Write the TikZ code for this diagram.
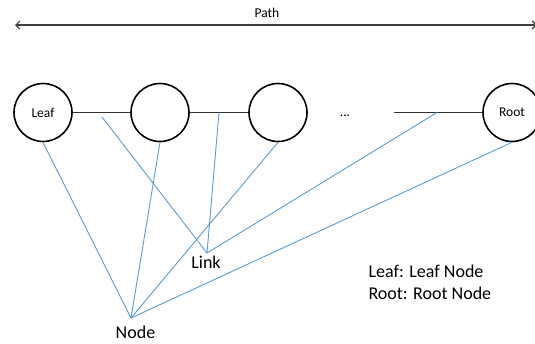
\documentclass[tikz,border=0pt]{standalone}
\usepackage{fontspec}
\setmainfont{Carlito}
\usetikzlibrary{arrows.meta}
\definecolor{linkblue}{RGB}{91,155,213}

\begin{document}
\begin{tikzpicture}[x=1pt, y=-1pt,
  vertex/.style={draw, circle, line width=1.6pt, minimum size=58pt, inner sep=0pt, font=\fontsize{13.5}{16}\selectfont},
  chain/.style={line width=0.9pt, color=black!80},
  link/.style={line width=0.9pt, color=linkblue},
  smalltext/.style={font=\fontsize{13.5}{16}\selectfont, anchor=base},
  bigtext/.style={font=\fontsize{18}{21}\selectfont, anchor=base}]
\useasboundingbox (0,0) rectangle (535,343);

\coordinate (pl) at (15,25);
\coordinate (pr) at (537,25);
\draw [{Straight Barb[length=4pt, width=8pt]}-{Straight Barb[length=4pt, width=8pt]}, line width=1.2pt, color=black!75] (pl) -- (pr);
\node [smalltext] (path) at (267,17) {Path};

\node [vertex] (leaf) at (43,112.5) {Leaf};
\node [vertex] (v2) at (160,112.5) {};
\node [vertex] (v3) at (278,112.5) {};
\node [vertex] (root) at (512,112.5) {Root};
\node [smalltext] (dots) at (345,116) {...};
\coordinate (gap) at (394,112.5);

\draw [chain] (leaf) -- (v2);
\draw [chain] (v2) -- (v3);
\draw [chain] (gap) -- (root);

\coordinate (nd) at (131,318);
\coordinate (lk) at (207,253);
\coordinate (a1) at (102,117);
\coordinate (a2) at (219,112.5);
\coordinate (a3) at (437,112.5);

\draw [link] (leaf.south) -- (nd);
\draw [link] (v2.south) -- (nd);
\draw [link] (v3.south) -- (nd);
\draw [link] (root.south) -- (nd);
\draw [link] (a1) -- (lk);
\draw [link] (a2) -- (lk);
\draw [link] (a3) -- (lk);

\node [bigtext] (lktext) at (206,268) {Link};
\node [bigtext] (ndtext) at (135.5,338) {Node};
\node [bigtext, anchor=base west] (key1) at (365,277) {Leaf: Leaf Node};
\node [bigtext, anchor=base west] (key2) at (365,299) {Root: Root Node};

\end{tikzpicture}
\end{document}
